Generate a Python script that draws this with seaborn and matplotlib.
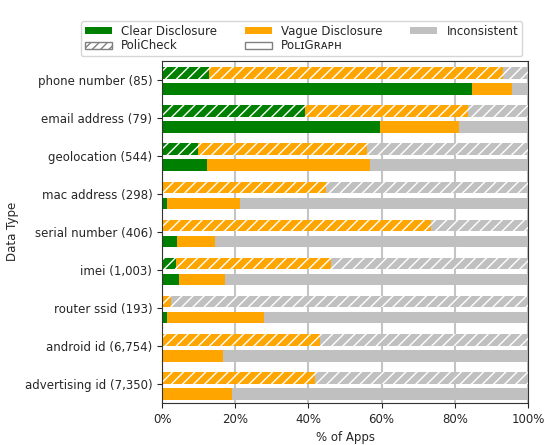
import numpy as np
import pandas as pd
import matplotlib.pyplot as plt
from matplotlib.patches import Patch
import seaborn as sns

data_types = ['phone number (85)', 'email address (79)', 'geolocation (544)',
              'mac address (298)', 'serial number (406)', 'imei (1,003)',
              'router ssid (193)', 'android id (6,754)', 'advertising id (7,350)']

# % of apps per disclosure type (inconsistent = rest up to 100)
policheck_clear = [12.8, 39.2, 9.7, 0.0, 0.0, 3.7, 0.0, 0.0, 0.0]
policheck_vague = [80.3, 44.4, 46.4, 44.9, 73.4, 42.6, 2.5, 43.2, 41.9]
poligraph_clear = [84.7, 59.6, 12.2, 1.3, 4.0, 4.6, 1.4, 0.0, 0.3]
poligraph_vague = [10.8, 21.6, 44.7, 20.1, 10.5, 12.7, 26.5, 16.8, 18.8]

x_ticks = [0, 20, 40, 60, 80, 100]

GREEN = 'green'
ORANGE = 'orange'
GRAY = '#c0c0c0'
FS = 8.5

sns.set_style('ticks')
plt.rcParams['font.family'] = ['DejaVu Sans']
plt.rcParams['hatch.linewidth'] = 1.0

fig = plt.figure(figsize=(5.54, 4.45), dpi=100)
ax = fig.add_axes([162 / 554, 1 - 403 / 445, 366 / 554, (403 - 60.5) / 445])


def draw_tool(clear, vague, offset, hatch):
    df = pd.DataFrame({
        'pos': np.arange(len(clear)) + offset,
        'clear': clear,
        'vague': np.add(clear, vague),
        'total': 100.0,
    })
    # stacked by drawing cumulative bars back to front
    for col, color in [('total', GRAY), ('vague', ORANGE), ('clear', GREEN)]:
        sns.barplot(data=df, x=col, y='pos', orient='h', native_scale=True,
                    width=0.31, color=color, saturation=1, hatch=hatch,
                    edgecolor='white', linewidth=0, ax=ax, zorder=2)


draw_tool(policheck_clear, policheck_vague, -0.165, '///')
draw_tool(poligraph_clear, poligraph_vague, 0.255, None)

ax.set_xlim(0, 100)
ax.set_ylim(8.5, -0.5)
ax.set_xticks(x_ticks)
ax.set_xticklabels([f'{t}%' for t in x_ticks], fontsize=FS)
ax.set_yticks(range(len(data_types)))
ax.set_yticklabels(data_types, fontsize=FS)
ax.set_xlabel('% of Apps', fontsize=FS)
ax.set_ylabel('Data Type', fontsize=FS)
ax.set_axisbelow(True)
ax.grid(axis='x', color='#c4c4c4', linewidth=1.5)
ax.grid(axis='y', visible=False)
for s in ax.spines.values():
    s.set_color('#333333')

handles = [
    Patch(facecolor=GREEN, edgecolor='none'),
    Patch(facecolor='white', edgecolor='gray', hatch='////'),
    Patch(facecolor=ORANGE, edgecolor='none'),
    Patch(facecolor='white', edgecolor='gray'),
    Patch(facecolor=GRAY, edgecolor='none'),
]
labels = ['Clear Disclosure', 'PoliCheck', 'Vague Disclosure', 'PᴏʟɪGʀᴀᴘʜ', 'Inconsistent']
fig.legend(handles, labels, ncol=3, loc='lower left',
           bbox_to_anchor=(81 / 554, 1 - 56 / 445, 441 / 554, 0.08), mode='expand',
           borderaxespad=0, fontsize=FS, labelspacing=0.15, handlelength=2.3,
           handleheight=0.6, borderpad=0.3, columnspacing=1.0, frameon=True)

fig.savefig('out.png', dpi=100)
